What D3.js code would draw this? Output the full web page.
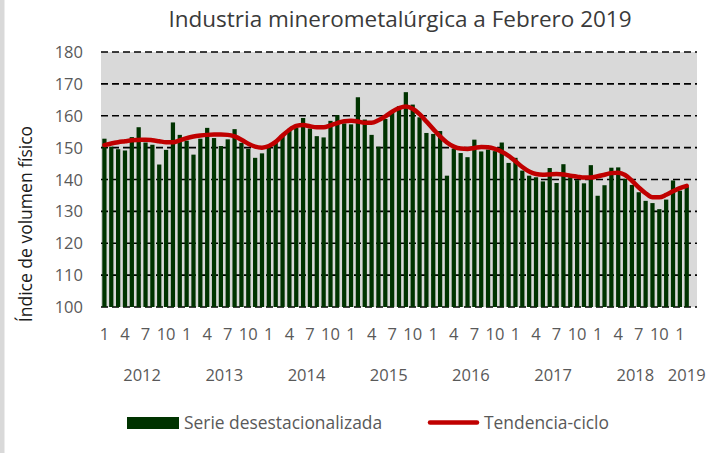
<!DOCTYPE html>
<html>
<head>
<meta charset="utf-8">
<script src="https://cdn.jsdelivr.net/npm/d3@7"></script>
<style>
  body { margin: 0; background: #fff; }
  text { font-family: "Open Sans", sans-serif; }
</style>
</head>
<body>
<div id="chart"></div>
<script>
// years on the axis, 2019 only has Jan-Feb data (March slot stays empty)
var years = ["2012", "2013", "2014", "2015", "2016", "2017", "2018", "2019"];
var monthsInYear = [12, 12, 12, 12, 12, 12, 12, 3];

// Serie desestacionalizada (Jan 2012 - Feb 2019)
var serie = [
  152.8, 150.3, 149.5, 149.1, 153.3, 156.4, 151.6, 150.9, 144.7, 149.3, 157.9, 154.0,
  152.2, 147.8, 152.8, 156.2, 153.0, 150.5, 152.6, 155.8, 151.5, 149.6, 146.8, 148.2,
  149.9, 151.7, 153.8, 155.9, 156.3, 159.3, 156.0, 153.6, 153.2, 158.4, 160.2, 157.6,
  157.3, 165.8, 158.8, 154.0, 150.3, 159.0, 161.4, 163.0, 167.4, 163.5, 159.5, 154.6,
  154.3, 155.2, 141.2, 149.7, 148.3, 147.0, 152.5, 148.8, 149.4, 148.9, 151.6, 145.2,
  146.8, 142.8, 141.2, 140.7, 139.4, 143.6, 138.9, 144.8, 140.7, 139.8, 138.8, 144.5,
  134.9, 138.2, 143.7, 143.8, 140.2, 138.3, 136.0, 133.3, 132.6, 130.7, 133.7, 139.7,
  136.5, 137.7
];

// Tendencia-ciclo
var tendencia = [
  150.8, 151.3, 151.7, 152.0, 152.3, 152.4, 152.5, 152.3, 152.0, 151.7, 151.7, 152.3,
  153.0, 153.5, 153.8, 154.0, 154.1, 154.1, 154.0, 153.5, 152.5, 151.2, 150.3, 150.0,
  150.5, 151.8, 153.8, 155.6, 156.8, 157.1, 156.7, 156.4, 156.4, 157.0, 157.7, 158.3,
  158.4, 158.2, 157.8, 157.8, 158.6, 159.8, 161.3, 162.4, 162.9, 162.2, 160.5, 158.2,
  155.8, 153.5, 151.6, 150.3, 149.7, 149.6, 149.9, 150.2, 150.1, 149.6, 148.7, 147.4,
  145.7, 143.9, 142.5, 141.7, 141.5, 141.6, 141.7, 141.6, 141.2, 140.9, 140.6, 140.6,
  141.0, 141.5, 142.0, 142.1, 141.4, 139.6, 137.5, 135.7, 134.4, 134.4, 135.2, 136.3,
  137.3, 138.0
];

var yTicks = [100, 110, 120, 130, 140, 150, 160, 170, 180];

var svgWidth = 726;
var svgHeight = 453;

// plot area in pixels
var margin = { top: 52, right: 29, bottom: 146, left: 101 };
var width = svgWidth - margin.left - margin.right;
var height = svgHeight - margin.top - margin.bottom;

// build categories (year + month) for the multi-level axis
var cats = [];
years.forEach(function(y, yi) {
  for (var m = 1; m <= monthsInYear[yi]; m++) {
    cats.push({ key: y + "-" + m, year: y, month: m });
  }
});
var data = cats.map(function(c, i) {
  return { key: c.key, year: c.year, month: c.month,
           serie: i < serie.length ? serie[i] : null,
           tend: i < tendencia.length ? tendencia[i] : null };
});

var svg = d3.select("#chart").append("svg")
  .attr("width", svgWidth)
  .attr("height", svgHeight);

// thin grey strip on the left border
svg.append("rect")
  .attr("x", 0).attr("y", 0)
  .attr("width", 4.5).attr("height", svgHeight)
  .attr("fill", "#d9d9d9");

var chart = svg.append("g")
  .attr("transform", `translate(${margin.left}, ${margin.top})`);

var x = d3.scaleBand()
  .domain(data.map(d => d.key))
  .range([0, width])
  .paddingInner(0.38)
  .paddingOuter(0.19);

var y = d3.scaleLinear()
  .domain([100, 180])
  .range([height, 0]);

// plot background
chart.append("rect")
  .attr("width", width)
  .attr("height", height)
  .attr("fill", "#d9d9d9");

// dashed gridlines
chart.selectAll(".grid")
  .data(yTicks)
  .enter().append("line")
  .attr("x1", 0).attr("x2", width)
  .attr("y1", d => y(d)).attr("y2", d => y(d))
  .attr("stroke", "#000")
  .attr("stroke-width", 1.6)
  .attr("stroke-dasharray", "7,4");

// bars
chart.selectAll(".bar")
  .data(data.filter(d => d.serie != null))
  .enter().append("rect")
  .attr("x", d => x(d.key))
  .attr("y", d => y(d.serie))
  .attr("width", x.bandwidth())
  .attr("height", d => y(100) - y(d.serie))
  .attr("fill", "#003300");

// trend line
var line = d3.line()
  .defined(d => d.tend != null)
  .x(d => x(d.key) + x.bandwidth() / 2)
  .y(d => y(d.tend))
  .curve(d3.curveMonotoneX);

chart.append("path")
  .datum(data)
  .attr("d", line)
  .attr("fill", "none")
  .attr("stroke", "#c00000")
  .attr("stroke-width", 4.5)
  .attr("stroke-linecap", "round")
  .attr("stroke-linejoin", "round");

// y axis labels
chart.selectAll(".ylab")
  .data(yTicks)
  .enter().append("text")
  .attr("x", -18)
  .attr("y", d => y(d) + 6)
  .attr("text-anchor", "end")
  .attr("font-size", "16.5px")
  .attr("fill", "#595959")
  .text(d => d);

// month labels every 3rd month
chart.selectAll(".mlab")
  .data(data.filter(d => (d.month - 1) % 3 === 0))
  .enter().append("text")
  .attr("x", d => x(d.key) + x.bandwidth() / 2)
  .attr("y", height + 33)
  .attr("text-anchor", "middle")
  .attr("font-size", "16.5px")
  .attr("fill", "#595959")
  .text(d => d.month);

// year labels centered under their months
chart.selectAll(".ylabel")
  .data(years)
  .enter().append("text")
  .attr("x", function(yr) {
    var ks = data.filter(d => d.year === yr);
    var x0 = x(ks[0].key) - x.step() * x.paddingInner() / 2;
    var x1 = x(ks[ks.length - 1].key) + x.bandwidth() + x.step() * x.paddingInner() / 2;
    return (x0 + x1) / 2;
  })
  .attr("y", height + 74)
  .attr("text-anchor", "middle")
  .attr("font-size", "16.5px")
  .attr("fill", "#595959")
  .text(d => d);

// axis title
svg.append("text")
  .attr("transform", "translate(32, 224) rotate(-90)")
  .attr("text-anchor", "middle")
  .attr("font-size", "17.5px")
  .attr("fill", "#1a1a1a")
  .text("Índice de volumen físico");

// chart title
svg.append("text")
  .attr("x", 400)
  .attr("y", 27)
  .attr("text-anchor", "middle")
  .attr("font-size", "22.5px")
  .attr("fill", "#3a3a3a")
  .text("Industria minerometalúrgica a Febrero 2019");

// legend
var legend = svg.append("g");
legend.append("rect")
  .attr("x", 127).attr("y", 417)
  .attr("width", 52).attr("height", 12)
  .attr("fill", "#003300");
legend.append("text")
  .attr("x", 184).attr("y", 429)
  .attr("font-size", "17.4px")
  .attr("fill", "#595959")
  .text("Serie desestacionalizada");
legend.append("line")
  .attr("x1", 430).attr("x2", 477)
  .attr("y1", 422.5).attr("y2", 422.5)
  .attr("stroke", "#c00000")
  .attr("stroke-width", 4.5)
  .attr("stroke-linecap", "round");
legend.append("text")
  .attr("x", 484).attr("y", 429)
  .attr("font-size", "17.4px")
  .attr("fill", "#595959")
  .text("Tendencia-ciclo");
</script>
</body>
</html>
